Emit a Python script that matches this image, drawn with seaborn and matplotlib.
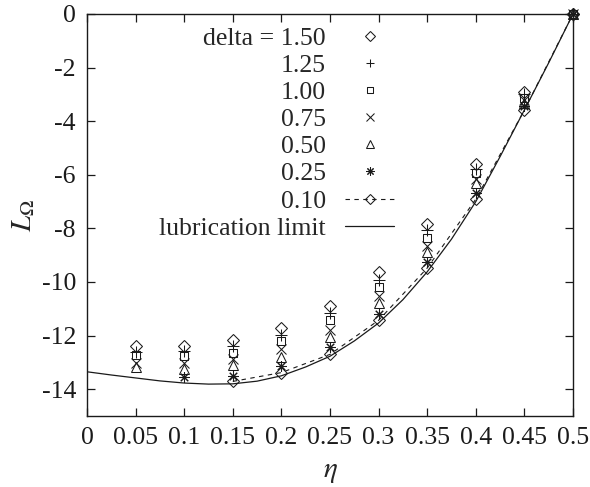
import numpy as np
import pandas as pd
import matplotlib
matplotlib.use("Agg")
import matplotlib.pyplot as plt
from matplotlib.path import Path
import seaborn as sns

# ---------------- data ----------------
eta = [0.05, 0.10, 0.15, 0.20, 0.25, 0.30, 0.35, 0.40, 0.45, 0.50]
d150 = [-12.38, -12.38, -12.17, -11.73, -10.89, -9.63, -7.85, -5.60, -2.90, 0.0]
d125 = [-12.60, -12.57, -12.37, -11.98, -11.16, -9.92, -8.07, -5.77, -3.00, 0.0]
d100 = [-12.74, -12.76, -12.64, -12.22, -11.43, -10.18, -8.34, -5.95, -3.12, 0.0]
d075 = [-13.02, -13.02, -12.89, -12.51, -11.78, -10.52, -8.64, -6.17, -3.22, 0.0]
d050 = [-13.17, -13.24, -13.11, -12.78, -12.05, -10.80, -8.87, -6.32, -3.32, 0.0]
d025 = [np.nan, -13.53, -13.51, -13.15, -12.44, -11.21, -9.26, -6.69, -3.45, 0.0]
d010 = [np.nan, np.nan, -13.71, -13.38, -12.70, -11.43, -9.48, -6.91, -3.58, 0.0]

lub_eta = [0.0, 0.025, 0.05, 0.075, 0.10, 0.125, 0.15, 0.175, 0.20, 0.225, 0.25,
           0.275, 0.30, 0.325, 0.35, 0.375, 0.40, 0.425, 0.45, 0.475, 0.50]
lub_L = [-13.35, -13.47, -13.58, -13.69, -13.77, -13.81, -13.80, -13.70, -13.50,
         -13.17, -12.77, -12.20, -11.53, -10.66, -9.62, -8.40, -7.00, -5.32, -3.58,
         -1.82, 0.0]

labels = ["delta = 1.50", "1.25", "1.00", "0.75", "0.50", "0.25", "0.10",
          "lubrication limit"]
xticks = [0, 0.05, 0.1, 0.15, 0.2, 0.25, 0.3, 0.35, 0.4, 0.45, 0.5]
xticklabels = ["0", "0.05", "0.1", "0.15", "0.2", "0.25", "0.3", "0.35", "0.4", "0.45", "0.5"]
yticks = [0, -2, -4, -6, -8, -10, -12, -14]

# ---------------- style ----------------
sns.set_theme(style="ticks")
plt.rcParams["font.family"] = ["Liberation Serif", "DejaVu Serif"]
plt.rcParams["mathtext.fontset"] = "stix"
plt.rcParams["axes.unicode_minus"] = False

fig = plt.figure(figsize=(5.90, 4.87), dpi=100)
ax = fig.add_axes([87 / 590, 1 - 416 / 487, (573 - 87) / 590, (416 - 14) / 487])

# square marker with center dot (gnuplot style)
sq = Path([(-1, -1), (1, -1), (1, 1), (-1, 1), (-1, -1),
           (-0.07, -0.07), (0.07, -0.07), (0.07, 0.07), (-0.07, 0.07), (-0.07, -0.07)],
          [Path.MOVETO, Path.LINETO, Path.LINETO, Path.LINETO, Path.CLOSEPOLY,
           Path.MOVETO, Path.LINETO, Path.LINETO, Path.LINETO, Path.CLOSEPOLY])

series = [
    (d150, "D", 6.0, labels[0]),
    (d125, "+", 8.0, labels[1]),
    (d100, sq, 6.0, labels[2]),
    (d075, "x", 6.5, labels[3]),
    (d050, "^", 6.5, labels[4]),
    (d025, (8, 2, 0), 7.5, labels[5]),
]
mlw = 0.75
for vals, mk, ms, lab in series:
    df = pd.DataFrame({"eta": eta, "L": vals}).dropna()
    sns.lineplot(data=df, x="eta", y="L", ax=ax, linestyle="", marker=mk,
                 markersize=ms, markerfacecolor="none", markeredgecolor="k",
                 markeredgewidth=mlw, color="k", label=lab, estimator=None,
                 clip_on=False, zorder=4)

df10 = pd.DataFrame({"eta": eta, "L": d010}).dropna()
sns.lineplot(data=df10, x="eta", y="L", ax=ax, color="k", linewidth=0.8,
             dashes=False, linestyle=(0, (4, 4)), marker="D", markersize=6.0,
             markerfacecolor="none", markeredgecolor="k", markeredgewidth=mlw,
             label=labels[6], estimator=None, clip_on=False, zorder=4)

dflub = pd.DataFrame({"eta": lub_eta, "L": lub_L})
sns.lineplot(data=dflub, x="eta", y="L", ax=ax, color="k", linewidth=0.9,
             label=labels[7], estimator=None)

# ---------------- axes ----------------
ax.set_xlim(0, 0.5)
ax.set_ylim(-15, 0)
ax.set_xticks(xticks)
ax.set_xticklabels(xticklabels)
ax.set_yticks(yticks)
ax.set_yticklabels([str(v) for v in yticks])
ax.tick_params(direction="in", length=6, width=0.9, top=True, right=True,
               labelsize=18.5, pad=8, colors="k")
for s in ax.spines.values():
    s.set_linewidth(1.0)
    s.set_color("k")
ax.set_xlabel(r"$\eta$", fontsize=21, labelpad=7)
ax.set_ylabel(r"$L_\Omega$", fontsize=21, labelpad=3)

leg = ax.legend(loc="upper right", bbox_to_anchor=(394 / 590, 1 - 27 / 487),
                bbox_transform=fig.transFigure, frameon=False, markerfirst=False,
                fontsize=18.5, handlelength=1.9, handletextpad=0.75,
                labelspacing=0.16, borderpad=0, borderaxespad=0, markerscale=0.8,
                numpoints=1)

fig.savefig("out.png", dpi=100)
